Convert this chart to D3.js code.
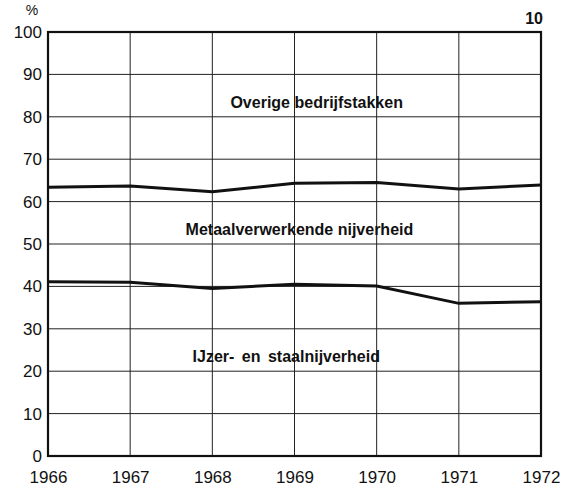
<!DOCTYPE html>
<html>
<head>
<meta charset="utf-8">
<script src="https://cdn.jsdelivr.net/npm/d3@7"></script>
<style>
  body { margin: 0; background: #fff; }
  text { font-family: "Liberation Sans", Arial, sans-serif; fill: #111; }
</style>
</head>
<body>
<div id="chart"></div>
<script>
// years along the bottom axis
var years = [1966, 1967, 1968, 1969, 1970, 1971, 1972];
// cumulative share (%) - top of "IJzer- en staalnijverheid"
var ijzerStaal = [41.1, 41.0, 39.5, 40.5, 40.1, 36.0, 36.4];
// cumulative share (%) - top of "Metaalverwerkende nijverheid"
var metaal = [63.4, 63.7, 62.3, 64.3, 64.5, 63.0, 63.9];
var yTicks = [0, 10, 20, 30, 40, 50, 60, 70, 80, 90, 100];
var areaLabels = ["Overige bedrijfstakken", "Metaalverwerkende nijverheid", "IJzer- en staalnijverheid"];

var width = 570, height = 486;
var margin = {top: 32, right: 29, bottom: 30, left: 48};

var svg = d3.select("#chart").append("svg")
  .attr("width", width)
  .attr("height", height);

var x = d3.scaleLinear()
  .domain([1966, 1972])
  .range([margin.left, width - margin.right]);

var y = d3.scaleLinear()
  .domain([0, 100])
  .range([height - margin.bottom, margin.top]);

//Grid lines
svg.append("g").selectAll("line.h")
  .data(yTicks)
  .enter().append("line")
  .attr("x1", x(1966)).attr("x2", x(1972))
  .attr("y1", function(d){ return y(d); })
  .attr("y2", function(d){ return y(d); })
  .attr("stroke", "#222").attr("stroke-width", 1);

svg.append("g").selectAll("line.v")
  .data(years)
  .enter().append("line")
  .attr("x1", function(d){ return x(d); })
  .attr("x2", function(d){ return x(d); })
  .attr("y1", y(0)).attr("y2", y(100))
  .attr("stroke", "#222").attr("stroke-width", 1);

//Frame
svg.append("rect")
  .attr("x", x(1966)).attr("y", y(100))
  .attr("width", x(1972) - x(1966))
  .attr("height", y(0) - y(100))
  .attr("fill", "none")
  .attr("stroke", "#111")
  .attr("stroke-width", 2.2);

//Axes (labels only, lines come from the grid)
var yAxis = svg.append("g")
  .attr("transform", "translate(" + margin.left + ",0)")
  .call(d3.axisLeft(y).tickValues(yTicks).tickSize(0).tickPadding(6));
yAxis.select(".domain").remove();
yAxis.selectAll("text")
  .style("font-size", "17px")
  .attr("font-family", null);

var xAxis = svg.append("g")
  .attr("transform", "translate(0," + y(0) + ")")
  .call(d3.axisBottom(x).tickValues(years).tickFormat(d3.format("d")).tickSize(0).tickPadding(15));
xAxis.select(".domain").remove();
xAxis.selectAll("text")
  .style("font-size", "17px")
  .attr("font-family", null);

//Data lines
var line = d3.line()
  .x(function(d, i){ return x(years[i]); })
  .y(function(d){ return y(d); });

[ijzerStaal, metaal].forEach(function(series){
  svg.append("path")
    .datum(series)
    .attr("d", line)
    .attr("fill", "none")
    .attr("stroke", "#111")
    .attr("stroke-width", 3);
});

//Area labels, anchored in data coordinates (year, %)
var labelAnchors = [[1969.27, 83.5], [1969.06, 53.5], [1968.9, 23.6]];
svg.append("g").selectAll("text")
  .data(areaLabels)
  .enter().append("text")
  .attr("x", function(d, i){ return x(labelAnchors[i][0]); })
  .attr("y", function(d, i){ return y(labelAnchors[i][1]); })
  .attr("text-anchor", "middle")
  .attr("dy", "0.35em")
  .style("font-size", "16px")
  .style("font-weight", "bold")
  .style("word-spacing", function(d, i){ return i === 2 ? "3px" : null; })
  .text(function(d){ return d; });

//Unit and figure number
svg.append("text")
  .attr("x", 32).attr("y", 15)
  .attr("text-anchor", "middle")
  .style("font-size", "14px")
  .text("%");

svg.append("text")
  .attr("x", x(1972) + 2).attr("y", 24)
  .attr("text-anchor", "end")
  .style("font-size", "16px")
  .style("font-weight", "bold")
  .text("10");
</script>
</body>
</html>
